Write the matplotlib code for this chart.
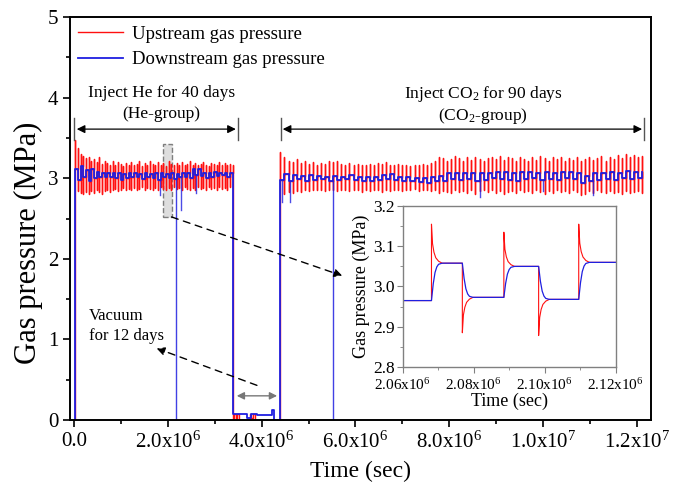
import numpy as np
import matplotlib
matplotlib.use("Agg")
import matplotlib.pyplot as plt
from matplotlib.patches import Rectangle

plt.rcParams["font.family"] = "Liberation Serif"
plt.rcParams["mathtext.fontset"] = "custom"
plt.rcParams["mathtext.rm"] = "Liberation Serif"
plt.rcParams["mathtext.it"] = "Liberation Serif:italic"

# ---- data ----
# He group: downstream step levels, upstream spike tops / bottoms
he_start, he_end = 0.03e6, 3.38e6
he_level = [3.12, 2.98, 3.15, 3.02, 3.10, 2.97, 3.12, 3.00, 3.08, 3.01, 3.07, 3.02, 3.06, 3.01, 3.07,
            3.00, 3.06, 2.98, 3.05, 3.00, 3.06, 3.01, 3.07, 3.02, 3.05, 2.99, 3.06, 3.01, 3.05, 3.00,
            3.06, 2.98, 3.07, 3.02, 3.05, 3.00, 3.06, 2.99, 3.05, 3.01, 3.07, 3.02, 3.06, 3.00, 3.12,
            3.04, 3.11, 3.03, 3.06, 3.00, 3.07, 3.02, 3.08, 3.03, 3.06, 3.04, 3.07, 3.02, 3.06, 3.05]
he_top = [3.47, 3.38, 3.30, 3.28, 3.25, 3.27, 3.22, 3.24, 3.20, 3.26, 3.18, 3.21, 3.19, 3.17, 3.22,
          3.16, 3.20, 3.18, 3.15, 3.19, 3.17, 3.20, 3.16, 3.18, 3.21, 3.15, 3.19, 3.17, 3.22, 3.18,
          3.16, 3.20, 3.17, 3.19, 3.15, 3.21, 3.18, 3.16, 3.19, 3.17, 3.20, 3.16, 3.18, 3.21, 3.17,
          3.19, 3.16, 3.18, 3.20, 3.17, 3.15, 3.19, 3.18, 3.16, 3.20, 3.17, 3.19, 3.16, 3.18, 3.17]
he_bottom = [2.90, 2.84, 2.82, 2.80, 2.83, 2.81, 2.84, 2.82, 2.85, 2.83, 2.81, 2.84, 2.86, 2.83, 2.85,
             2.87, 2.84, 2.86, 2.88, 2.85, 2.87, 2.86, 2.88, 2.85, 2.87, 2.89, 2.86, 2.88, 2.87, 2.85,
             2.88, 2.86, 2.89, 2.87, 2.85, 2.88, 2.86, 2.89, 2.87, 2.88, 2.86, 2.89, 2.87, 2.85, 2.88,
             2.86, 2.89, 2.87, 2.88, 2.86, 2.89, 2.87, 2.88, 2.86, 2.89, 2.87, 2.88, 2.86, 2.89, 2.88]

# CO2 group
co2_start, co2_end = 4.40e6, 12.11e6
co2_level = [2.98, 3.05, 2.96, 3.04, 2.99, 3.03, 2.97, 3.04, 2.98, 3.03, 2.99, 3.02, 2.97, 3.03, 2.98,
             3.02, 2.99, 3.04, 2.98, 3.02, 2.97, 3.01, 2.96, 3.02, 2.98, 3.04, 2.99, 3.05, 2.98, 3.02,
             2.97, 3.01, 2.96, 3.00, 2.95, 3.00, 2.94, 3.01, 2.96, 3.03, 2.97, 3.07, 2.99, 3.07, 2.98,
             3.06, 2.99, 3.07, 2.97, 3.06, 2.98, 3.07, 3.00, 3.08, 2.99, 3.08, 2.98, 3.07, 2.96, 3.08,
             2.99, 3.08, 3.00, 3.07, 2.98, 3.08, 2.99, 3.07, 2.98, 3.08, 3.00, 3.08, 2.99, 3.07, 2.94,
             3.03, 2.97, 3.06, 2.98, 3.07, 2.99, 3.08, 2.98, 3.07, 3.00, 3.09, 2.99, 3.08, 3.00, 3.08]
co2_top = [3.32, 3.26, 3.22, 3.20, 3.24, 3.19, 3.21, 3.18, 3.20, 3.17, 3.19, 3.18, 3.22, 3.20, 3.21,
           3.18, 3.17, 3.19, 3.16, 3.18, 3.17, 3.16, 3.18, 3.17, 3.19, 3.18, 3.20, 3.17, 3.16, 3.18,
           3.17, 3.16, 3.15, 3.17, 3.16, 3.18, 3.17, 3.19, 3.21, 3.27, 3.25, 3.22, 3.24, 3.28, 3.25,
           3.22, 3.26, 3.23, 3.27, 3.24, 3.22, 3.25, 3.27, 3.24, 3.28, 3.23, 3.26, 3.25, 3.22, 3.27,
           3.24, 3.21, 3.26, 3.23, 3.28, 3.25, 3.22, 3.26, 3.24, 3.27, 3.22, 3.25, 3.23, 3.26, 3.22,
           3.24, 3.27, 3.23, 3.25, 3.28, 3.22, 3.26, 3.24, 3.29, 3.25, 3.30, 3.27, 3.29, 3.26, 3.28]
co2_bottom = [2.78, 2.80, 2.83, 2.82, 2.84, 2.83, 2.85, 2.84, 2.86, 2.85, 2.86, 2.84, 2.85, 2.86, 2.84,
              2.85, 2.86, 2.84, 2.85, 2.86, 2.83, 2.85, 2.84, 2.86, 2.85, 2.83, 2.86, 2.84, 2.85, 2.86,
              2.84, 2.86, 2.85, 2.87, 2.84, 2.86, 2.85, 2.84, 2.86, 2.82, 2.84, 2.83, 2.82, 2.85, 2.83,
              2.84, 2.82, 2.85, 2.81, 2.84, 2.86, 2.83, 2.85, 2.82, 2.84, 2.80, 2.83, 2.84, 2.82, 2.85,
              2.83, 2.84, 2.82, 2.85, 2.83, 2.81, 2.84, 2.82, 2.85, 2.83, 2.84, 2.82, 2.85, 2.83, 2.79,
              2.81, 2.84, 2.82, 2.85, 2.83, 2.82, 2.84, 2.82, 2.83, 2.81, 2.84, 2.82, 2.83, 2.84, 2.82]

# vacuum period
vac_blue_t = [3.40e6, 3.50e6, 3.69e6, 3.77e6, 3.90e6, 4.22e6, 4.26e6]
vac_blue_v = [0.08, 0.07, 0.02, 0.07, 0.06, 0.12, 0.00]
vac_red_t = [3.40e6, 3.42e6, 3.46e6, 3.48e6, 3.52e6, 3.75e6, 3.78e6, 3.82e6, 3.85e6]
vac_red_v = [0.00, 0.07, 0.01, 0.07, 0.00, 0.07, 0.02, 0.07, 0.00]

# downward excursions of the downstream pressure
blue_dip_t = [1.83e6, 2.28e6, 2.60e6, 4.43e6, 4.60e6, 8.66e6, 10.0e6, 11.07e6]
blue_dip_v = [2.79, 2.60, 2.82, 2.70, 2.70, 2.77, 2.84, 2.79]
blue_drop_t = [2.17e6, 5.52e6]

# inset
ins_steps = [2.0681e6, 2.0768e6, 2.0885e6, 2.0983e6, 2.1096e6]
ins_level = [2.965, 3.058, 2.973, 3.050, 2.968, 3.060]
ins_spike = [3.155, 2.885, 3.135, 2.878, 3.155]
decay_dt = [0, 300, 700, 1200, 2000, 3000]
decay_frac = [1.0, 0.5, 0.28, 0.14, 0.05, 0.0]
rise_dt = [0, 500, 1000, 1500, 2000, 3000]
rise_frac = [0.0, 0.45, 0.75, 0.9, 0.97, 1.0]

main_xticks = [0, 2e6, 4e6, 6e6, 8e6, 1e7, 1.2e7]
main_xlabels = ["0.0", r"2.0x10$^6$", r"4.0x10$^6$", r"6.0x10$^6$", r"8.0x10$^6$",
                r"1.0x10$^7$", r"1.2x10$^7$"]
ins_xticks = [2.06e6, 2.08e6, 2.10e6, 2.12e6]
ins_xlabels = [r"2.06x10$^6$", r"2.08x10$^6$", r"2.10x10$^6$", r"2.12x10$^6$"]

RED = "#ff1010"
BLUE = "#1f1fe0"


def spike_trace(times, level, top, bottom, base):
    xs, ys, prev = [], [], base
    for t, l, hi, lo in zip(times, level, top, bottom):
        xs += [t, t, t, t]
        ys += [prev, hi, lo, l]
        prev = l
    return xs, ys


def step_trace(times, values, base):
    xs, ys, prev = [], [], base
    for t, v in zip(times, values):
        xs += [t, t]
        ys += [prev, v]
        prev = v
    return xs, ys


he_t = np.linspace(he_start, he_end, len(he_level))
co2_t = np.linspace(co2_start, co2_end, len(co2_level))

fig = plt.figure(figsize=(6.78, 4.86), dpi=100)
ax = fig.add_axes([0.1032, 0.1358, 0.857, 0.829])

# upstream (red)
rx1, ry1 = spike_trace(he_t, he_level, he_top, he_bottom, 0.0)
rx2, ry2 = step_trace(vac_red_t, vac_red_v, he_level[-1])
rx3, ry3 = spike_trace(co2_t, co2_level, co2_top, co2_bottom, vac_red_v[-1])
ax.plot([0.0] + rx1 + rx2 + rx3, [0.0] + ry1 + ry2 + ry3, color=RED, lw=1.0,
        label="Upstream gas pressure")

# downstream (blue)
bx1, by1 = step_trace(he_t, he_level, 0.0)
bx2, by2 = step_trace(vac_blue_t, vac_blue_v, he_level[-1])
bx3, by3 = step_trace(co2_t, co2_level, vac_blue_v[-1])
ax.plot([0.02e6] + bx1 + bx2 + bx3, [0.0] + by1 + by2 + by3, color=BLUE, lw=1.3,
        label="Downstream gas pressure")

all_t = np.concatenate([he_t, co2_t])
all_l = he_level + co2_level
for td, dv in zip(blue_dip_t, blue_dip_v):
    lv = all_l[np.searchsorted(all_t, td) - 1]
    ax.plot([td, td], [lv, dv], color=BLUE, lw=1.0, alpha=0.8)
for td in blue_drop_t:
    lv = all_l[np.searchsorted(all_t, td) - 1]
    ax.plot([td, td], [lv, 0.0], color=BLUE, lw=1.0, alpha=0.85)

ax.set_xlim(-0.085e6, 12.3e6)
ax.set_ylim(0, 5)
ax.set_xticks(main_xticks)
ax.set_xticklabels(main_xlabels)
ax.set_xticks(np.arange(1e6, 12.5e6, 2e6), minor=True)
ax.set_yticks([0, 1, 2, 3, 4, 5])
ax.set_yticks(np.arange(0.5, 5, 1.0), minor=True)
ax.tick_params(which="both", direction="out", top=False, right=False, width=1.2)
ax.tick_params(which="major", length=5, labelsize=15)
ax.tick_params(which="minor", length=3)
for sp in ax.spines.values():
    sp.set_linewidth(1.4)
ax.set_xlabel("Time (sec)", fontsize=17, labelpad=6)
ax.set_ylabel("Gas pressure (MPa)", fontsize=22)
ax.yaxis.set_label_coords(-0.046, 0.44)

leg = ax.legend(loc="upper left", frameon=False, fontsize=13.5, handlelength=2.4,
                borderaxespad=0.05, labelspacing=0.45, handletextpad=0.45)

# group brackets
ann = dict(arrowstyle="<|-|>", color="black", lw=0.9, mutation_scale=12,
           shrinkA=0, shrinkB=0)
for t in [0.0, 3.49e6, 4.41e6, 12.15e6]:
    ax.plot([t, t], [3.47, 3.75], color="#555555", lw=1.0)
ax.annotate("", xy=(0.06e6, 3.61), xytext=(3.45e6, 3.61), arrowprops=ann)
ax.annotate("", xy=(4.45e6, 3.61), xytext=(12.11e6, 3.61), arrowprops=ann)
ax.text(1.87e6, 4.06, "Inject He for 40 days", ha="center", va="center", fontsize=12.5)
ax.text(1.87e6, 3.80, "(He-group)", ha="center", va="center", fontsize=12.5)
ax.text(8.72e6, 4.05, r"Inject CO$_2$ for 90 days", ha="center", va="center", fontsize=12.5)
ax.text(8.72e6, 3.77, r"(CO$_2$-group)", ha="center", va="center", fontsize=12.5)

# zoom box and pointer
ax.add_patch(Rectangle((1.90e6, 2.52), 0.18e6, 0.91, facecolor="#c8c8c8", alpha=0.6,
                       edgecolor="#333333", ls="--", lw=1.0))
ax.annotate("", xy=(5.72e6, 1.79), xytext=(2.08e6, 2.52),
            arrowprops=dict(arrowstyle="-|>", color="black", lw=1.0, ls=(0, (5, 4)),
                            mutation_scale=12, shrinkA=0, shrinkB=0))

# vacuum annotation
ax.text(0.32e6, 1.17, "Vacuum\nfor 12 days", ha="left", va="center", fontsize=12,
        linespacing=1.35)
ax.annotate("", xy=(1.76e6, 0.89), xytext=(3.90e6, 0.43),
            arrowprops=dict(arrowstyle="-|>", color="black", lw=1.0, ls=(0, (5, 4)),
                            mutation_scale=12, shrinkA=0, shrinkB=0))
ax.annotate("", xy=(3.47e6, 0.30), xytext=(4.33e6, 0.30),
            arrowprops=dict(arrowstyle="<|-|>", color="#777777", lw=1.0,
                            mutation_scale=11, shrinkA=0, shrinkB=0))

# ---- inset ----
ins = fig.add_axes([0.594, 0.245, 0.314, 0.331])
irx, iry = [2.06e6], [ins_level[0]]
ibx, iby = [2.06e6], [ins_level[0]]
for k, ts in enumerate(ins_steps):
    lo, hi, sp = ins_level[k], ins_level[k + 1], ins_spike[k]
    irx.append(ts)
    iry.append(lo)
    for dt, fr in zip(decay_dt, decay_frac):
        irx.append(ts + dt)
        iry.append(hi + fr * (sp - hi))
    for dt, fr in zip(rise_dt, rise_frac):
        ibx.append(ts + dt)
        iby.append(lo + fr * (hi - lo))
irx.append(2.12e6)
iry.append(ins_level[-1])
ibx.append(2.12e6)
iby.append(ins_level[-1])
ins.plot(irx, iry, color=RED, lw=0.8)
ins.plot(ibx, iby, color=BLUE, lw=0.9)
ins.set_xlim(2.06e6, 2.12e6)
ins.set_ylim(2.8, 3.2)
ins.set_xticks(ins_xticks)
ins.set_xticklabels(ins_xlabels)
ins.set_xticks([2.07e6, 2.09e6, 2.11e6], minor=True)
ins.set_yticks([2.8, 2.9, 3.0, 3.1, 3.2])
ins.set_yticklabels(["2.8", "2.9", "3.0", "3.1", "3.2"])
ins.set_yticks([2.85, 2.95, 3.05, 3.15], minor=True)
ins.tick_params(which="both", direction="out", top=False, right=False, color="#808080")
ins.tick_params(which="major", length=4)
ins.tick_params(axis="x", which="major", labelsize=11, pad=3)
ins.tick_params(axis="y", which="major", labelsize=12.5, pad=2)
ins.tick_params(which="minor", length=2.5)
for sp in ins.spines.values():
    sp.set_color("#808080")
    sp.set_linewidth(1.0)
ins.set_xlabel("Time (sec)", fontsize=13, labelpad=0)
ins.set_ylabel("Gas pressure (MPa)", fontsize=13, labelpad=2)

fig.savefig("out.png", dpi=100)
